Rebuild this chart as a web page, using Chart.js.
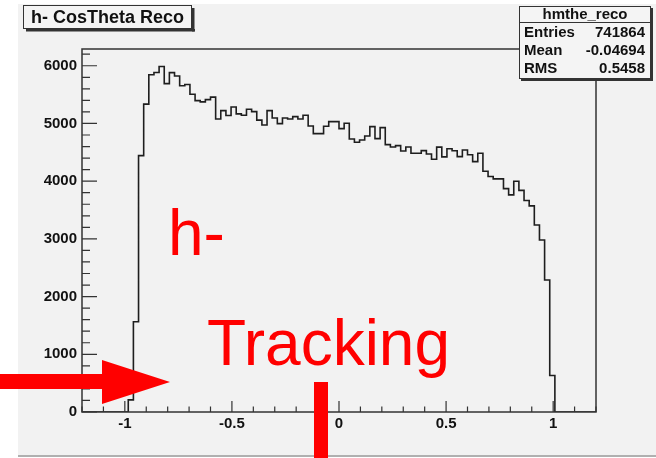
<!DOCTYPE html>
<html>
<head>
<meta charset="utf-8">
<script src="https://cdn.jsdelivr.net/npm/chart.js@4.4.1/dist/chart.umd.min.js"></script>
<style>
  html, body { margin: 0; padding: 0; background: #fff; }
</style>
</head>
<body>
<canvas id="myChart" width="656" height="458"></canvas>
<script>
// hmthe_reco : 100 bins on [-1.2, 1.2]
const xMin = -1.2
const xMax = 1.2
const binWidth = 0.024
const counts = [
  0, 0, 0, 0, 0, 0, 0, 0, 0, 210,
  1565, 4442, 5335, 5843, 5884, 5988, 5690, 5880, 5823, 5653,
  5676, 5506, 5395, 5373, 5413, 5456, 5078, 5222, 5138, 5286,
  5165, 5142, 5246, 5205, 5058, 4974, 5222, 5095, 4997, 5095,
  5078, 5118, 5078, 5142, 4957, 4823, 4823, 4951, 5032, 5032,
  4910, 5003, 4730, 4674, 4714, 4783, 4945, 4737, 4927, 4633,
  4593, 4615, 4523, 4593, 4483, 4483, 4529, 4470, 4380, 4590,
  4420, 4562, 4526, 4425, 4541, 4457, 4338, 4483, 4171, 4081,
  4040, 4040, 3870, 3763, 3998, 3840, 3665, 3572, 3240, 2981,
  2288, 632, 0, 0, 0, 0, 0, 0, 0, 0,
]
const yMax = 6290
const xTickLabels = ['-1', '-0.5', '0', '0.5', '1']
const yTickLabels = ['0', '1000', '2000', '3000', '4000', '5000', '6000']

const histTitle = 'h- CosTheta Reco'
const statsName = 'hmthe_reco'
const statsKeys = ['Entries', 'Mean', 'RMS']
const statsValues = ['741864', '-0.04694', '0.5458']

// points at low bin edges, stepped so each bin is flat
let points = counts.map((c, i) => ({ x: xMin + i * binWidth, y: c }))
points.push({ x: xMax, y: counts[counts.length - 1] })

const FONT = '"Liberation Sans", Arial, Helvetica, sans-serif'

const rootStyle = {
  id: 'rootStyle',
  beforeDraw(chart) {
    const c = chart.ctx
    c.save()
    c.fillStyle = '#ffffff'
    c.fillRect(0, 0, chart.width, chart.height)
    c.fillStyle = '#f2f2f2'
    c.fillRect(18, 4, chart.width - 18, 451)
    c.fillStyle = '#b0b0b0'
    c.fillRect(18, 455, chart.width - 18, 2)
    c.restore()
  },
  afterDraw(chart) {
    const c = chart.ctx
    const a = chart.chartArea
    const xs = chart.scales.x
    const ys = chart.scales.y
    c.save()

    // frame
    c.strokeStyle = '#333'
    c.lineWidth = 1.5
    c.strokeRect(a.left, a.top, a.right - a.left, a.bottom - a.top)

    // ticks pointing inward
    c.lineWidth = 1.2
    c.beginPath()
    xs.ticks.forEach(t => {
      const major = Math.abs(t.value * 2 - Math.round(t.value * 2)) < 1e-6
      const px = xs.getPixelForValue(t.value)
      c.moveTo(px, a.bottom)
      c.lineTo(px, a.bottom - (major ? 11 : 5.5))
    })
    ys.ticks.forEach(t => {
      const major = Math.round(t.value) % 1000 === 0
      const py = ys.getPixelForValue(t.value)
      c.moveTo(a.left, py)
      c.lineTo(a.left + (major ? 15 : 8), py)
    })
    c.stroke()

    // title box
    c.font = 'bold 18px ' + FONT
    const bw = Math.round(c.measureText(histTitle).width + 16)
    c.fillStyle = '#333'
    c.fillRect(23 + bw, 8, 2.5, 23.5)
    c.fillRect(26, 29, bw, 2.5)
    c.fillStyle = '#f4f4f4'
    c.fillRect(23, 5, bw, 24)
    c.strokeStyle = '#333'
    c.lineWidth = 1
    c.strokeRect(23.5, 5.5, bw - 1, 23)
    c.fillStyle = '#111'
    c.textAlign = 'center'
    c.textBaseline = 'middle'
    c.fillText(histTitle, 23 + bw / 2, 18)

    // stats box
    const sx = 519
    const sw = 132
    c.fillStyle = '#333'
    c.fillRect(sx + sw, 8, 2, 73)
    c.fillRect(sx + 2, 79, sw, 2)
    c.fillStyle = '#f4f4f4'
    c.fillRect(sx, 6, sw, 73)
    c.strokeRect(sx + 0.5, 6.5, sw - 1, 72)
    c.beginPath()
    c.moveTo(sx, 22.5)
    c.lineTo(sx + sw, 22.5)
    c.stroke()
    c.fillStyle = '#111'
    c.font = 'bold 15px ' + FONT
    c.fillText(statsName, sx + sw / 2, 14.5)
    statsKeys.forEach((k, i) => {
      const y = 33 + i * 18
      c.textAlign = 'left'
      c.fillText(k, sx + 5, y)
      c.textAlign = 'right'
      c.fillText(statsValues[i], sx + sw - 6, y)
    })

    // red annotations
    c.fillStyle = '#ff0000'
    c.font = '64px ' + FONT
    c.textAlign = 'left'
    c.textBaseline = 'alphabetic'
    c.fillText('h-', 168, 255)
    c.fillText('Tracking', 207, 365)
    c.beginPath()
    c.moveTo(0, 374)
    c.lineTo(102, 374)
    c.lineTo(102, 360)
    c.lineTo(170, 382)
    c.lineTo(102, 404)
    c.lineTo(102, 389)
    c.lineTo(0, 389)
    c.closePath()
    c.fill()
    c.fillRect(314, 382, 14, 76)

    c.restore()
  },
}

let ctx = document.getElementById('myChart').getContext('2d')

let histChart = new Chart(ctx, {
  type: 'line',
  data: {
    datasets: [
      {
        label: statsName,
        data: points,
        stepped: 'before',
        borderColor: '#1e1e1e',
        borderWidth: 1.6,
        pointRadius: 0,
        fill: false,
        tension: 0,
      },
    ],
  },
  options: {
    responsive: false,
    animation: false,
    layout: {
      padding: { left: 0, right: 60, top: 49, bottom: 0 },
    },
    plugins: {
      legend: { display: false },
      tooltip: { enabled: false },
    },
    scales: {
      x: {
        type: 'linear',
        min: xMin,
        max: xMax,
        afterFit: s => { s.height = 46 },
        grid: { display: false, drawTicks: false },
        border: { display: false },
        ticks: {
          stepSize: 0.1,
          autoSkip: false,
          maxRotation: 0,
          includeBounds: false,
          padding: 3,
          color: '#111',
          font: { family: FONT, weight: 'bold', size: 15 },
          callback: v => {
            const s = String(Math.round(v * 10) / 10)
            return xTickLabels.includes(s) ? s : ''
          },
        },
      },
      y: {
        min: 0,
        max: yMax,
        afterFit: s => { s.width = 82 },
        grid: { display: false, drawTicks: false },
        border: { display: false },
        ticks: {
          stepSize: 200,
          autoSkip: false,
          includeBounds: false,
          padding: 5,
          color: '#111',
          font: { family: FONT, weight: 'bold', size: 15 },
          callback: v => {
            const s = String(Math.round(v))
            return yTickLabels.includes(s) ? s : ''
          },
        },
      },
    },
  },
  plugins: [rootStyle],
})
</script>
</body>
</html>
